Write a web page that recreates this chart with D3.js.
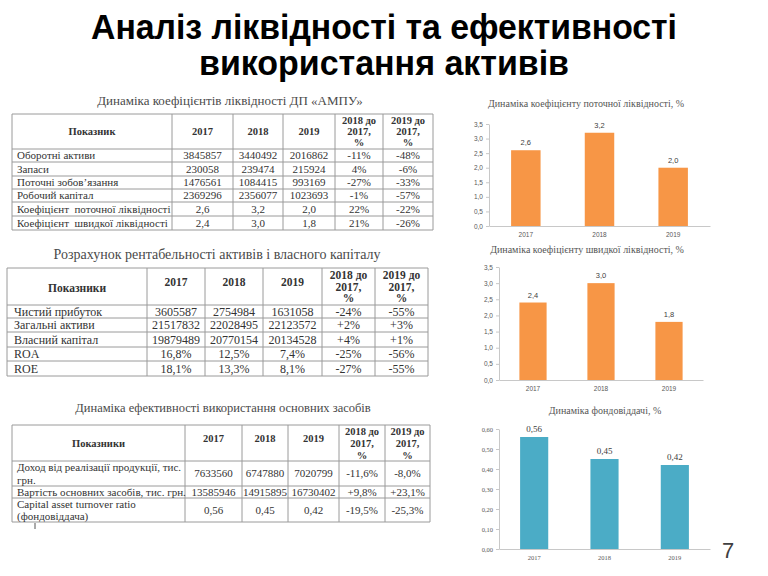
<!DOCTYPE html>
<html><head><meta charset="utf-8">
<script src="https://cdn.jsdelivr.net/npm/d3@7/dist/d3.min.js"></script>
<style>
body{margin:0;background:#fff;}
svg text{white-space:pre;}
</style>
</head><body>
<svg id="c" width="768" height="576"></svg>
<script>
// ---------- DATA ----------
const slideTitle = ["Аналіз ліквідності та ефективності", "використання активів"];
const years = ["2017", "2018", "2019"];
const pageNumber = "7";

// Table 1
const t1Title = "Динаміка коефіцієнтів ліквідності ДП «АМПУ»";
const t1Header = [["Показник"], ["2017"], ["2018"], ["2019"], ["2018 до", "2017,", "%"], ["2019 до", "2017,", "%"]];
const t1Rows = ["Оборотні активи", "Запаси", "Поточні зобов’язання", "Робочий капітал", "Коефіцієнт  поточної ліквідності", "Коефіцієнт  швидкої ліквідності"];
const t1v2017 = ["3845857", "230058", "1476561", "2369296", "2,6", "2,4"];
const t1v2018 = ["3440492", "239474", "1084415", "2356077", "3,2", "3,0"];
const t1v2019 = ["2016862", "215924", "993169", "1023693", "2,0", "1,8"];
const t1d18 = ["-11%", "4%", "-27%", "-1%", "22%", "21%"];
const t1d19 = ["-48%", "-6%", "-33%", "-57%", "-22%", "-26%"];

// Table 2
const t2Title = "Розрахунок рентабельності активів і власного капіталу";
const t2Header = [["Показники"], ["2017"], ["2018"], ["2019"], ["2018 до", "2017,", "%"], ["2019 до", "2017,", "%"]];
const t2Rows = ["Чистий прибуток", "Загальні активи", "Власний капітал", "ROA", "ROE"];
const t2v2017 = ["3605587", "21517832", "19879489", "16,8%", "18,1%"];
const t2v2018 = ["2754984", "22028495", "20770154", "12,5%", "13,3%"];
const t2v2019 = ["1631058", "22123572", "20134528", "7,4%", "8,1%"];
const t2d18 = ["-24%", "+2%", "+4%", "-25%", "-27%"];
const t2d19 = ["-55%", "+3%", "+1%", "-56%", "-55%"];

// Table 3
const t3Title = "Динаміка ефективності використання основних засобів";
const t3Header = [["Показники"], ["2017"], ["2018"], ["2019"], ["2018 до", "2017,", "%"], ["2019 до", "2017,", "%"]];
const t3Rows = [["Доход від реалізації продукції, тис.", "грн."], ["Вартість основних засобів, тис. грн."], ["Capital asset turnover ratio", "(фондовіддача)"]];
const t3v2017 = ["7633560", "13585946", "0,56"];
const t3v2018 = ["6747880", "14915895", "0,45"];
const t3v2019 = ["7020799", "16730402", "0,42"];
const t3d18 = ["-11,6%", "+9,8%", "-19,5%"];
const t3d19 = ["-8,0%", "+23,1%", "-25,3%"];

// Charts
const c1Title = "Динаміка коефіцієнту поточної ліквідності, %";
const currentRatio = [2.6, 3.2, 2.0];
const c2Title = "Динаміка коефіцієнту швидкої ліквідності, %";
const quickRatio = [2.4, 3.0, 1.8];
const c3Title = "Динаміка фондовіддачі, %";
const assetTurnover = [0.56, 0.45, 0.42];
const liqTicks = [0, 0.5, 1.0, 1.5, 2.0, 2.5, 3.0, 3.5];
const turnTicks = [0, 0.1, 0.2, 0.3, 0.4, 0.5, 0.6];

// ---------- DRAW ----------
const svg = d3.select("#c");
const SERIF = "'Liberation Serif','Times New Roman',serif";
const SANS = "'Liberation Sans',Arial,sans-serif";
const comma = s => s.replace(".", ",");

// slide title
const titleWidths = [586, 370];
svg.selectAll("text.st").data(slideTitle).join("text")
  .attr("x", 384).attr("y", (d, i) => 39 + i * 36)
  .attr("text-anchor", "middle")
  .attr("textLength", (d, i) => titleWidths[i]).attr("lengthAdjust", "spacingAndGlyphs")
  .style("font-family", SANS).style("font-weight", "bold").style("font-size", "35px")
  .style("fill", "#000").text(d => d);

function drawTable(cfg) {
  const g = svg.append("g");
  const { cols, rows, fs, hfs, header, body, hTopSingle, hTopMulti, lh, padL, title, titleX, titleY, titleFs } = cfg;
  g.append("text").attr("x", titleX).attr("y", titleY).attr("text-anchor", "middle")
    .style("font-family", SERIF).style("font-size", titleFs + "px").style("fill", "#4a4a4a").text(title);
  const y0 = rows[0], y1 = rows[rows.length - 1];
  g.selectAll("line.v").data(cols).join("line")
    .attr("x1", d => d).attr("x2", d => d).attr("y1", y0).attr("y2", y1)
    .style("stroke", "#9a9a9a").style("stroke-width", 1);
  g.selectAll("line.h").data(rows).join("line")
    .attr("x1", cols[0]).attr("x2", cols[cols.length - 1]).attr("y1", d => d).attr("y2", d => d)
    .style("stroke", "#9a9a9a").style("stroke-width", 1);
  // header
  header.forEach((lines, i) => {
    const cx = (cols[i] + cols[i + 1]) / 2;
    let ys;
    if (i === 0) ys = [cfg.hFirst];
    else if (lines.length === 1) ys = [hTopSingle];
    else ys = lines.map((_, k) => hTopMulti + k * lh);
    lines.forEach((t, k) => {
      g.append("text").attr("x", cx).attr("y", ys[k]).attr("text-anchor", "middle")
        .style("font-family", SERIF).style("font-weight", "bold").style("font-size", hfs + "px")
        .style("fill", "#333").text(t);
    });
  });
  // body
  body.forEach((row, r) => {
    const top = rows[r + 1], bot = rows[r + 2];
    const mid = (top + bot) / 2;
    row.forEach((cell, c) => {
      const lines = Array.isArray(cell) ? cell : [cell];
      const n = lines.length;
      lines.forEach((t, k) => {
        const y = mid + (k - (n - 1) / 2) * cfg.blh + fs * 0.36;
        const tx = g.append("text").attr("y", y)
          .style("font-family", SERIF).style("font-size", fs + "px").style("fill", "#333").text(t);
        if (c === 0) {
          tx.attr("x", cols[0] + padL);
          if (n > 1 && k === 0 && cfg.justifyRows && cfg.justifyRows.includes(r))
            tx.attr("textLength", cols[1] - cols[0] - padL - 4).attr("lengthAdjust", "spacing");
        } else {
          tx.attr("x", (cols[c] + cols[c + 1]) / 2).attr("text-anchor", "middle");
        }
      });
    });
  });
}

const zip = (a, ...rest) => a.map((d, i) => [d, ...rest.map(r => r[i])]);

drawTable({
  title: t1Title, titleX: 230, titleY: 105, titleFs: 13,
  cols: [12, 172, 233, 283, 335, 383, 433],
  rows: [114, 149, 162, 176, 189, 202, 216, 230],
  fs: 11, hfs: 10.5, lh: 11, blh: 12, padL: 5,
  header: t1Header, hFirst: 135, hTopSingle: 135, hTopMulti: 124,
  body: zip(t1Rows, t1v2017, t1v2018, t1v2019, t1d18, t1d19)
});

drawTable({
  title: t2Title, titleX: 217, titleY: 259, titleFs: 14,
  cols: [7, 147, 205, 263, 322, 375, 428],
  rows: [268, 305, 318, 332, 347, 361, 376],
  fs: 12, hfs: 11.5, lh: 11.5, blh: 12, padL: 7,
  header: t2Header, hFirst: 292, hTopSingle: 286, hTopMulti: 279,
  body: zip(t2Rows, t2v2017, t2v2018, t2v2019, t2d18, t2d19)
});

drawTable({
  title: t3Title, titleX: 223, titleY: 412, titleFs: 12.5,
  cols: [12, 185, 242, 288, 339, 385, 430],
  rows: [425, 461, 486, 498, 522],
  fs: 11, hfs: 10.5, lh: 12, blh: 12.5, padL: 5, justifyRows: [0],
  header: t3Header, hFirst: 447, hTopSingle: 442, hTopMulti: 435,
  body: zip(t3Rows, t3v2017, t3v2018, t3v2019, t3d18, t3d19)
});
// small stray mark under table 3
svg.append("line").attr("x1", 35).attr("x2", 35).attr("y1", 523).attr("y2", 529).style("stroke", "#555");

function drawBar(cfg) {
  const g = svg.append("g");
  const x = d3.scaleBand().domain(years).range([cfg.x0, cfg.x1]).paddingInner(0.6).paddingOuter(0.3);
  const y = d3.scaleLinear().domain([0, cfg.max]).range([cfg.y0, cfg.yTop]);
  g.append("text").attr("x", cfg.tx).attr("y", cfg.ty).attr("text-anchor", "middle")
    .style("font-family", SERIF).style("font-size", "10px").style("fill", "#555").text(cfg.title);
  const ya = g.append("g").attr("transform", `translate(${cfg.x0},0)`)
    .call(d3.axisLeft(y).tickValues(cfg.ticks).tickFormat(d => comma(d3.format(cfg.fmt)(d))).tickSize(3).tickSizeOuter(0));
  ya.select(".domain").style("stroke", "#c8c8c8");
  ya.selectAll(".tick line").style("stroke", "#c8c8c8");
  ya.selectAll(".tick text").style("font-family", cfg.tickFont).style("font-size", "6.5px").style("fill", "#595959").attr("x", -6);
  const xa = g.append("g").attr("transform", `translate(0,${cfg.y0})`)
    .call(d3.axisBottom(x).tickSize(0).tickSizeOuter(0));
  xa.select(".domain").style("stroke", "#c8c8c8");
  xa.selectAll(".tick text").style("font-family", cfg.tickFont).style("font-size", "6.5px").style("fill", "#595959").attr("dy", "0.71em").attr("y", 6);
  const data = years.map((k, i) => ({ k, v: cfg.values[i] }));
  g.selectAll("rect.bar").data(data).join("rect")
    .attr("x", d => x(d.k)).attr("width", x.bandwidth())
    .attr("y", d => y(d.v)).attr("height", d => cfg.y0 - y(d.v))
    .style("fill", cfg.color);
  g.selectAll("text.lbl").data(data).join("text")
    .attr("x", d => x(d.k) + x.bandwidth() / 2).attr("y", d => y(d.v) - 5)
    .attr("text-anchor", "middle")
    .style("font-family", cfg.lblFont).style("font-size", cfg.lblFs + "px").style("fill", "#404040")
    .text(d => comma(d3.format(cfg.fmt)(d.v)));
}

drawBar({ title: c1Title, tx: 586, ty: 107, x0: 489, x1: 710, y0: 226, yTop: 124, max: 3.5,
  ticks: liqTicks, fmt: ".1f", values: currentRatio, color: "#F79646",
  tickFont: SANS, lblFont: SANS, lblFs: 7.5 });
drawBar({ title: c2Title, tx: 587, ty: 253, x0: 499, x1: 703, y0: 380, yTop: 267, max: 3.5,
  ticks: liqTicks, fmt: ".1f", values: quickRatio, color: "#F79646",
  tickFont: SANS, lblFont: SANS, lblFs: 7.5 });
drawBar({ title: c3Title, tx: 605, ty: 414, x0: 499, x1: 710, y0: 549, yTop: 429, max: 0.6,
  ticks: turnTicks, fmt: ".2f", values: assetTurnover, color: "#4BACC6",
  tickFont: SERIF, lblFont: SERIF, lblFs: 9 });

svg.append("text").attr("x", 728).attr("y", 558).attr("text-anchor", "middle")
  .style("font-family", SANS).style("font-size", "22px").style("fill", "#404040").text(pageNumber);
</script>
</body></html>
